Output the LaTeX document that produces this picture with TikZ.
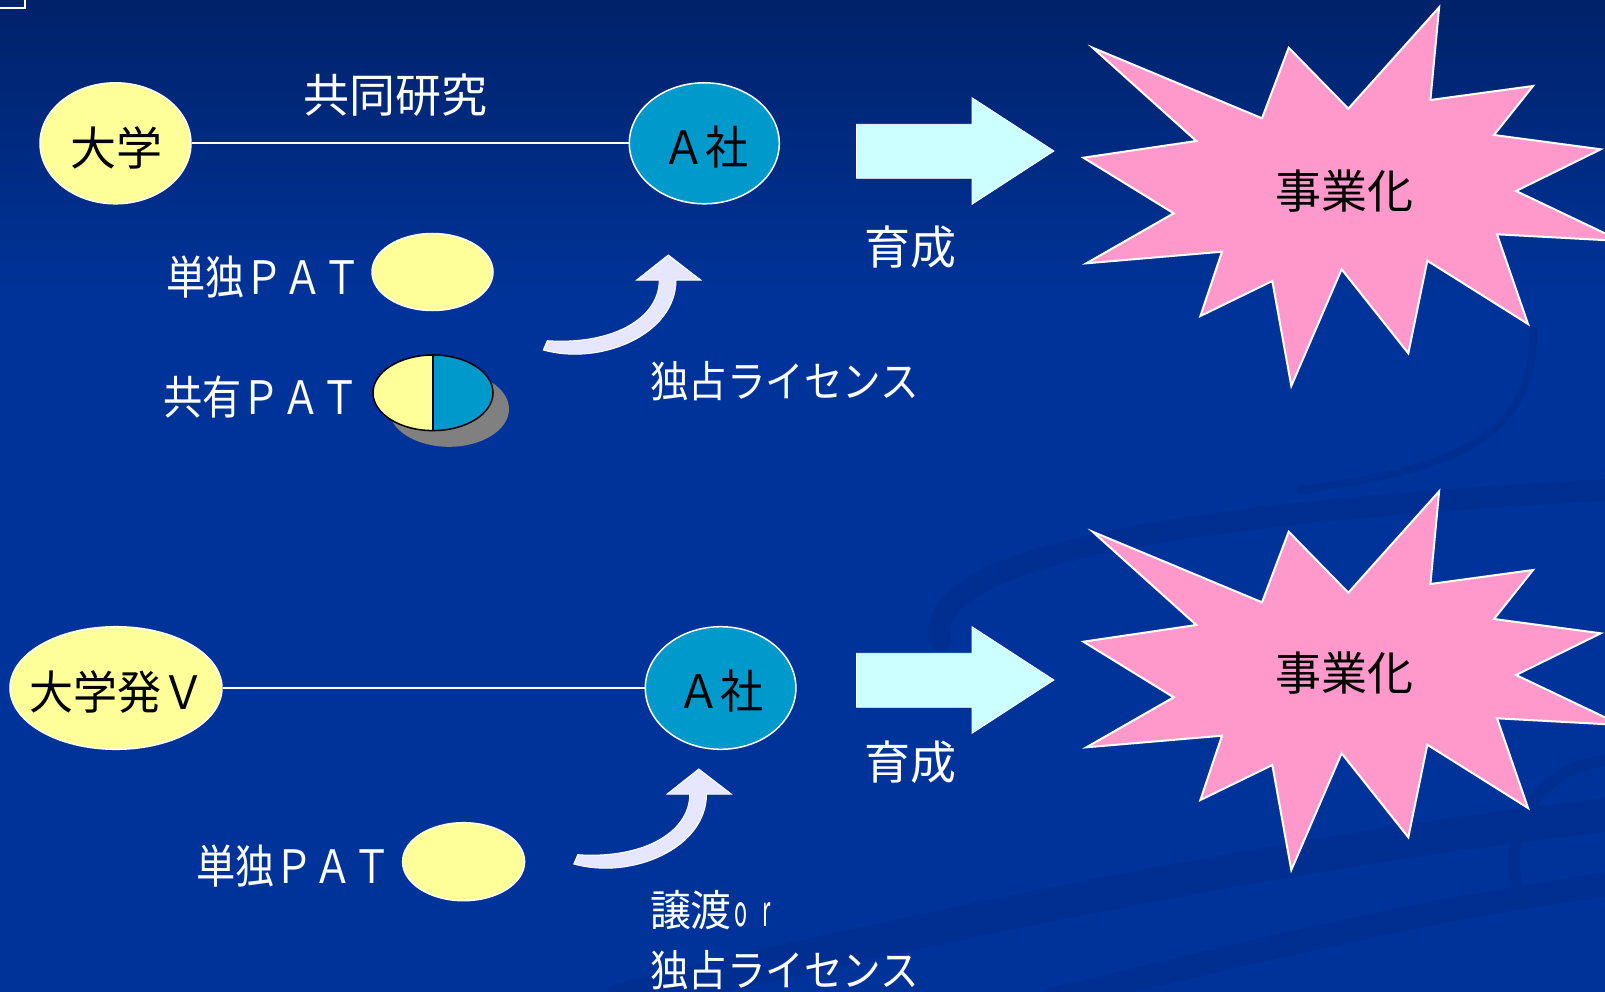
\documentclass[tikz,border=0pt]{standalone}
\usepackage{fontspec}
\setmainfont{Noto Sans CJK JP}
\usepackage{graphicx}
\usetikzlibrary{shapes.geometric}
\definecolor{bgtop}{RGB}{0,34,106}
\definecolor{bgmain}{RGB}{0,51,153}
\definecolor{swirl}{RGB}{0,47,145}
\definecolor{uniyellow}{RGB}{255,255,153}
\definecolor{cblue}{RGB}{0,153,204}
\definecolor{arrowcyan}{RGB}{204,255,255}
\definecolor{starpink}{RGB}{255,153,204}
\definecolor{lav}{RGB}{230,230,255}
\definecolor{shadowgray}{RGB}{128,128,128}
\begin{document}
\begin{tikzpicture}[x=1pt,y=-1pt,
  ell/.style={ellipse, draw=white, line width=1.5pt, inner sep=0pt},
  txt/.style={inner sep=0pt, outer sep=0pt, font=\fontsize{46pt}{50pt}\selectfont},
  wtxt/.style={txt, text=white},
  btxt/.style={txt, text=black},
  smalltxt/.style={wtxt, font=\fontsize{43pt}{47pt}\selectfont},
  conn/.style={draw=white, line width=2pt},
  burst/.style={fill=starpink, draw=white, line width=2pt, line join=miter, miter limit=25},
  blockarrow/.style={fill=arrowcyan, draw=white, line width=0.8pt},
  curvarrow/.style={fill=lav, draw=white, line width=1pt},
  swirlband/.style={draw=swirl, line cap=round}
]
\useasboundingbox (0,0) rectangle (1605,992);
\clip (0,0) rectangle (1605,992);
% background
\fill[bgmain] (0,0) rectangle (1605,992);
\foreach \i in {0,...,59}{
  \pgfmathtruncatemacro\p{100*\i/59}
  \fill[bgmain!\p!bgtop] (0,\i*5) rectangle (1605,\i*5+5.6);
}
% faint swirls
\draw[swirlband, line width=22pt] (940,640) .. controls (925,560) and (1150,515) .. (1605,490);
\draw[swirlband, line width=8pt] (1300,490) .. controls (1450,470) and (1535,440) .. (1533,330);
\draw[swirlband, line width=34pt] (620,1000) .. controls (950,920) and (1300,850) .. (1605,815);
\draw[swirlband, line width=24pt] (1050,1000) .. controls (1300,940) and (1450,905) .. (1605,885);
\draw[swirlband, line width=12pt] (1605,760) .. controls (1530,770) and (1500,840) .. (1520,900);
% corner mark
\draw[white, line width=2pt] (0,8) -- (25,8) -- (25,0);

% ---------- top row ----------
\node[ell, fill=uniyellow, minimum width=151pt, minimum height=121pt] (u1) at (115.5,143.3) {};
\node[ell, fill=cblue, minimum width=150pt, minimum height=121pt] (a1) at (704.3,143.3) {};
\draw[conn] (u1) -- (a1);
\node[btxt] (u1t) at (116,147.5) {大学};
\node[btxt] (a1t) at (705,147) {\resizebox{86pt}{\height}{Ａ社}};
\node[wtxt] (kyodo) at (395.5,95.5) {共同研究};

\node[wtxt] (pat1t) at (264,277.5) {\resizebox{196pt}{\height}{単独ＰＡＴ}};
\node[ell, fill=uniyellow, minimum width=121pt, minimum height=77pt] (pat1) at (432.5,272) {};

\node[wtxt] (pat2t) at (261.5,397.5) {\resizebox{196pt}{\height}{共有ＰＡＴ}};
\node[ellipse, fill=shadowgray, inner sep=0pt, minimum width=120pt, minimum height=75.6pt] (sh2) at (449,409) {};
\node[ellipse, draw=black, line width=1.5pt, inner sep=0pt, minimum width=120pt, minimum height=75.6pt,
  path picture={
    \fill[uniyellow] (path picture bounding box.south west) rectangle (path picture bounding box.north);
    \fill[cblue] (path picture bounding box.north) rectangle (path picture bounding box.south east);
  }] (pat2) at (433,392.8) {};
\draw[black, line width=1.5pt] (pat2.north) -- (pat2.south);

\path[curvarrow] (543.3,350) .. controls (600,366) and (676,335) .. (676,280)
  -- (700.7,280) -- (668.3,255) -- (636.7,280) -- (659.3,280)
  .. controls (659,320) and (610,345) .. (547.3,340.7) -- cycle;
\node[smalltxt, anchor=west] (lic1) at (650,381) {\resizebox{269pt}{\height}{独占ライセンス}};

\path[blockarrow] (856.5,124.3) -- (972,124.3) -- (972,97.7) -- (1054,151) -- (972,204.3) -- (972,178.3) -- (856.5,178.3) -- cycle;
\node[wtxt] (grow1) at (910,247.5) {育成};

\path[burst] (1092.6,47.7) -- (1262,118.3) -- (1288.7,47.7) -- (1348.3,108.7) -- (1439.1,7.3) -- (1430.4,100) -- (1533,86) -- (1494,135) -- (1600.8,149.3) -- (1516,191) -- (1621,241) -- (1497,234.3) -- (1528,324) -- (1427.3,260.7) -- (1408.3,353.3) -- (1341.6,269.3) -- (1291.3,386) -- (1272.3,281) -- (1200.4,316) -- (1222,251.7) -- (1086.4,263.3) -- (1173.7,213.3) -- (1083.4,157.7) -- (1196.3,141) -- cycle;
\node[btxt] (biz1) at (1344,191) {事業化};

% ---------- bottom row ----------
\node[ell, fill=uniyellow, minimum width=212pt, minimum height=122.6pt] (u2) at (116,688) {};
\node[ell, fill=cblue, minimum width=150.6pt, minimum height=122.6pt] (a2) at (720.6,688) {};
\draw[conn] (u2) -- (a2);
\node[btxt] (u2t) at (117.5,691.7) {\resizebox{176pt}{\height}{大学発Ｖ}};
\node[btxt] (a2t) at (720.5,691) {\resizebox{86pt}{\height}{Ａ社}};

\node[wtxt] (pat3t) at (294,866) {\resizebox{196pt}{\height}{単独ＰＡＴ}};
\node[ell, fill=uniyellow, minimum width=122pt, minimum height=78pt] (pat3) at (463.6,861.7) {};

\begin{scope}[shift={(30.5,514)}]
\path[curvarrow] (543.3,350) .. controls (600,366) and (676,335) .. (676,280)
  -- (700.7,280) -- (668.3,255) -- (636.7,280) -- (659.3,280)
  .. controls (659,320) and (610,345) .. (547.3,340.7) -- cycle;
\end{scope}
\node[smalltxt, anchor=west] (jouto) at (650,910) {\scalebox{0.95}[1]{譲渡}\hspace{3pt}\scalebox{0.5}[1]{o}\hspace{15pt}\scalebox{0.5}[1]{r}};
\node[smalltxt, anchor=west] (lic2) at (650,970.5) {\resizebox{269pt}{\height}{独占ライセンス}};

\path[blockarrow] (856.5,653.3) -- (972,653.3) -- (972,626.7) -- (1054,680) -- (972,733.3) -- (972,707.3) -- (856.5,707.3) -- cycle;
\node[wtxt] (grow2) at (910,761.7) {育成};

\begin{scope}[shift={(0,484)}]
\path[burst] (1092.6,47.7) -- (1262,118.3) -- (1288.7,47.7) -- (1348.3,108.7) -- (1439.1,7.3) -- (1430.4,100) -- (1533,86) -- (1494,135) -- (1600.8,149.3) -- (1516,191) -- (1621,241) -- (1497,234.3) -- (1528,324) -- (1427.3,260.7) -- (1408.3,353.3) -- (1341.6,269.3) -- (1291.3,386) -- (1272.3,281) -- (1200.4,316) -- (1222,251.7) -- (1086.4,263.3) -- (1173.7,213.3) -- (1083.4,157.7) -- (1196.3,141) -- cycle;
\end{scope}
\node[btxt] (biz2) at (1344,673) {事業化};
\end{tikzpicture}
\end{document}
